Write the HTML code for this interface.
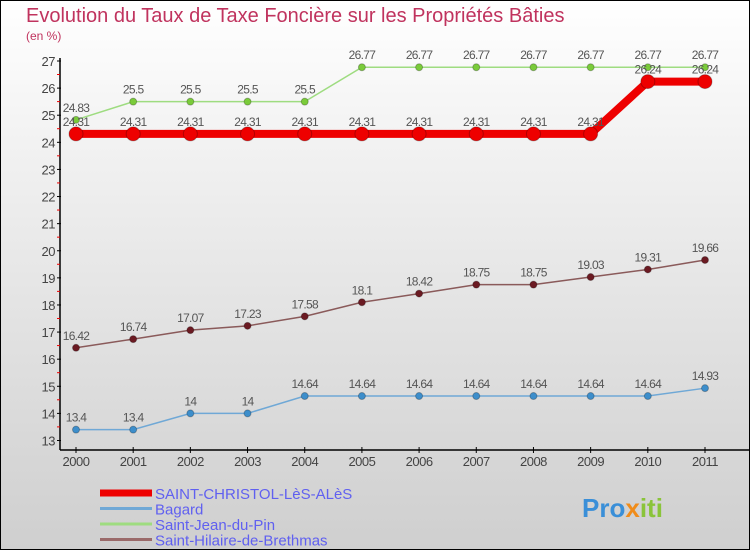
<!DOCTYPE html>
<html><head><meta charset="utf-8"><style>
body{margin:0}
#c{width:750px;height:550px;position:relative;box-sizing:border-box;border:1px solid #000;background:linear-gradient(#fff,#f0f0f0 30%,#d8d8d8 80%,#cfcfcf);font-family:"Liberation Sans",sans-serif;overflow:hidden}
</style></head><body>
<div id="c">
<svg id="s" width="750" height="550" style="position:absolute;left:-1px;top:-1px">
<text x="26" y="22" font-size="20" fill="#c0335e">Evolution du Taux de Taxe Foncière sur les Propriétés Bâties</text>
<text x="26" y="40" font-size="12" fill="#c0335e">(en %)</text>
</svg>
</div>
<script>
const years=["2000","2001","2002","2003","2004","2005","2006","2007","2008","2009","2010","2011"];
const yTicks=[13,14,15,16,17,18,19,20,21,22,23,24,25,26,27];
const christol=[24.31,24.31,24.31,24.31,24.31,24.31,24.31,24.31,24.31,24.31,26.24,26.24];
const bagard=[13.4,13.4,14,14,14.64,14.64,14.64,14.64,14.64,14.64,14.64,14.93];
const jean=[24.83,25.5,25.5,25.5,25.5,26.77,26.77,26.77,26.77,26.77,26.77,26.77];
const hilaire=[16.42,16.74,17.07,17.23,17.58,18.1,18.42,18.75,18.75,19.03,19.31,19.66];
const NS="http://www.w3.org/2000/svg",s=document.getElementById('s');
const X=i=>76+i*(705-76)/11, Y=v=>440.5-(v-13)*(379.5/14);
function mk(t,a,p){const e=document.createElementNS(NS,t);for(const k in a)e.setAttribute(k,a[k]);(p||s).appendChild(e);return e;}
const ax=mk('g',{});


mk('line',{x1:60,y1:58,x2:60,y2:450,stroke:'#000','stroke-width':1.5},ax);
mk('line',{x1:60,y1:450,x2:750,y2:450,stroke:'#000','stroke-width':1.5},ax);
yTicks.forEach(v=>{const y=Y(v);
mk('line',{x1:57,y1:y,x2:61,y2:y,stroke:'#000'},ax);
if(v<27)mk('line',{x1:57,y1:y-13.6,x2:60,y2:y-13.6,stroke:'#e00'},ax);
const t=mk('text',{x:55,y:y+5,'text-anchor':'end','font-size':13,fill:'#444','letter-spacing':'-0.5'},ax);t.textContent=v;

});
years.forEach((yr,i)=>{const x=X(i);mk('line',{x1:x,y1:447,x2:x,y2:453,stroke:'#000'},ax);
const t=mk('text',{x:x,y:466,'text-anchor':'middle','font-size':13,fill:'#444','letter-spacing':'-0.5'},ax);t.textContent=yr;

});
function series(d,name,col,lw,r,fill){
const g=mk('g',{});


mk('polyline',{points:d.map((v,i)=>X(i)+','+Y(v)).join(' '),fill:'none',stroke:col,'stroke-width':lw},g);
d.forEach((v,i)=>{const c=mk('circle',{cx:X(i),cy:Y(v),r:r,fill:fill,stroke:'rgba(0,0,0,0.25)'},g);


const t=mk('text',{x:X(i),y:Y(v)-8,'text-anchor':'middle','font-size':12,fill:'#555','letter-spacing':'-0.7'},g);t.textContent=v;

});}
series(bagard,'bagard-series','#6fa8d6',1.5,3.5,'#3d8ecb');
series(hilaire,'saint-hilaire-series','#8a5a5a',1.5,3.5,'#6b1a22');
series(jean,'saint-jean-series','#9edc80',1.5,3.5,'#7acb3a');
series(christol,'saint-christol-series','#ee0000',8,7,'#ee0000');
const lg=[['SAINT-CHRISTOL-LèS-ALèS','#ee0000',7],['Bagard','#6fa8d6',3],['Saint-Jean-du-Pin','#9edc80',3],['Saint-Hilaire-de-Brethmas','#9a6a6a',3]];
lg.forEach((l,i)=>{const y=493+i*15.5;const g=mk('g',{});


mk('line',{x1:100,y1:y,x2:152,y2:y,stroke:l[1],'stroke-width':l[2]},g);
const t=mk('text',{x:155,y:y+6,'font-size':15,fill:'#6060f0'},g);t.textContent=l[0];});
const lo=mk('text',{x:582,y:517,'font-size':26,'font-weight':'bold',fill:'#3a8fd8'});


lo.innerHTML='Pro<tspan fill="#f08c1a">x</tspan><tspan fill="#8ac43a">iti</tspan>';
</script>
</body></html>
